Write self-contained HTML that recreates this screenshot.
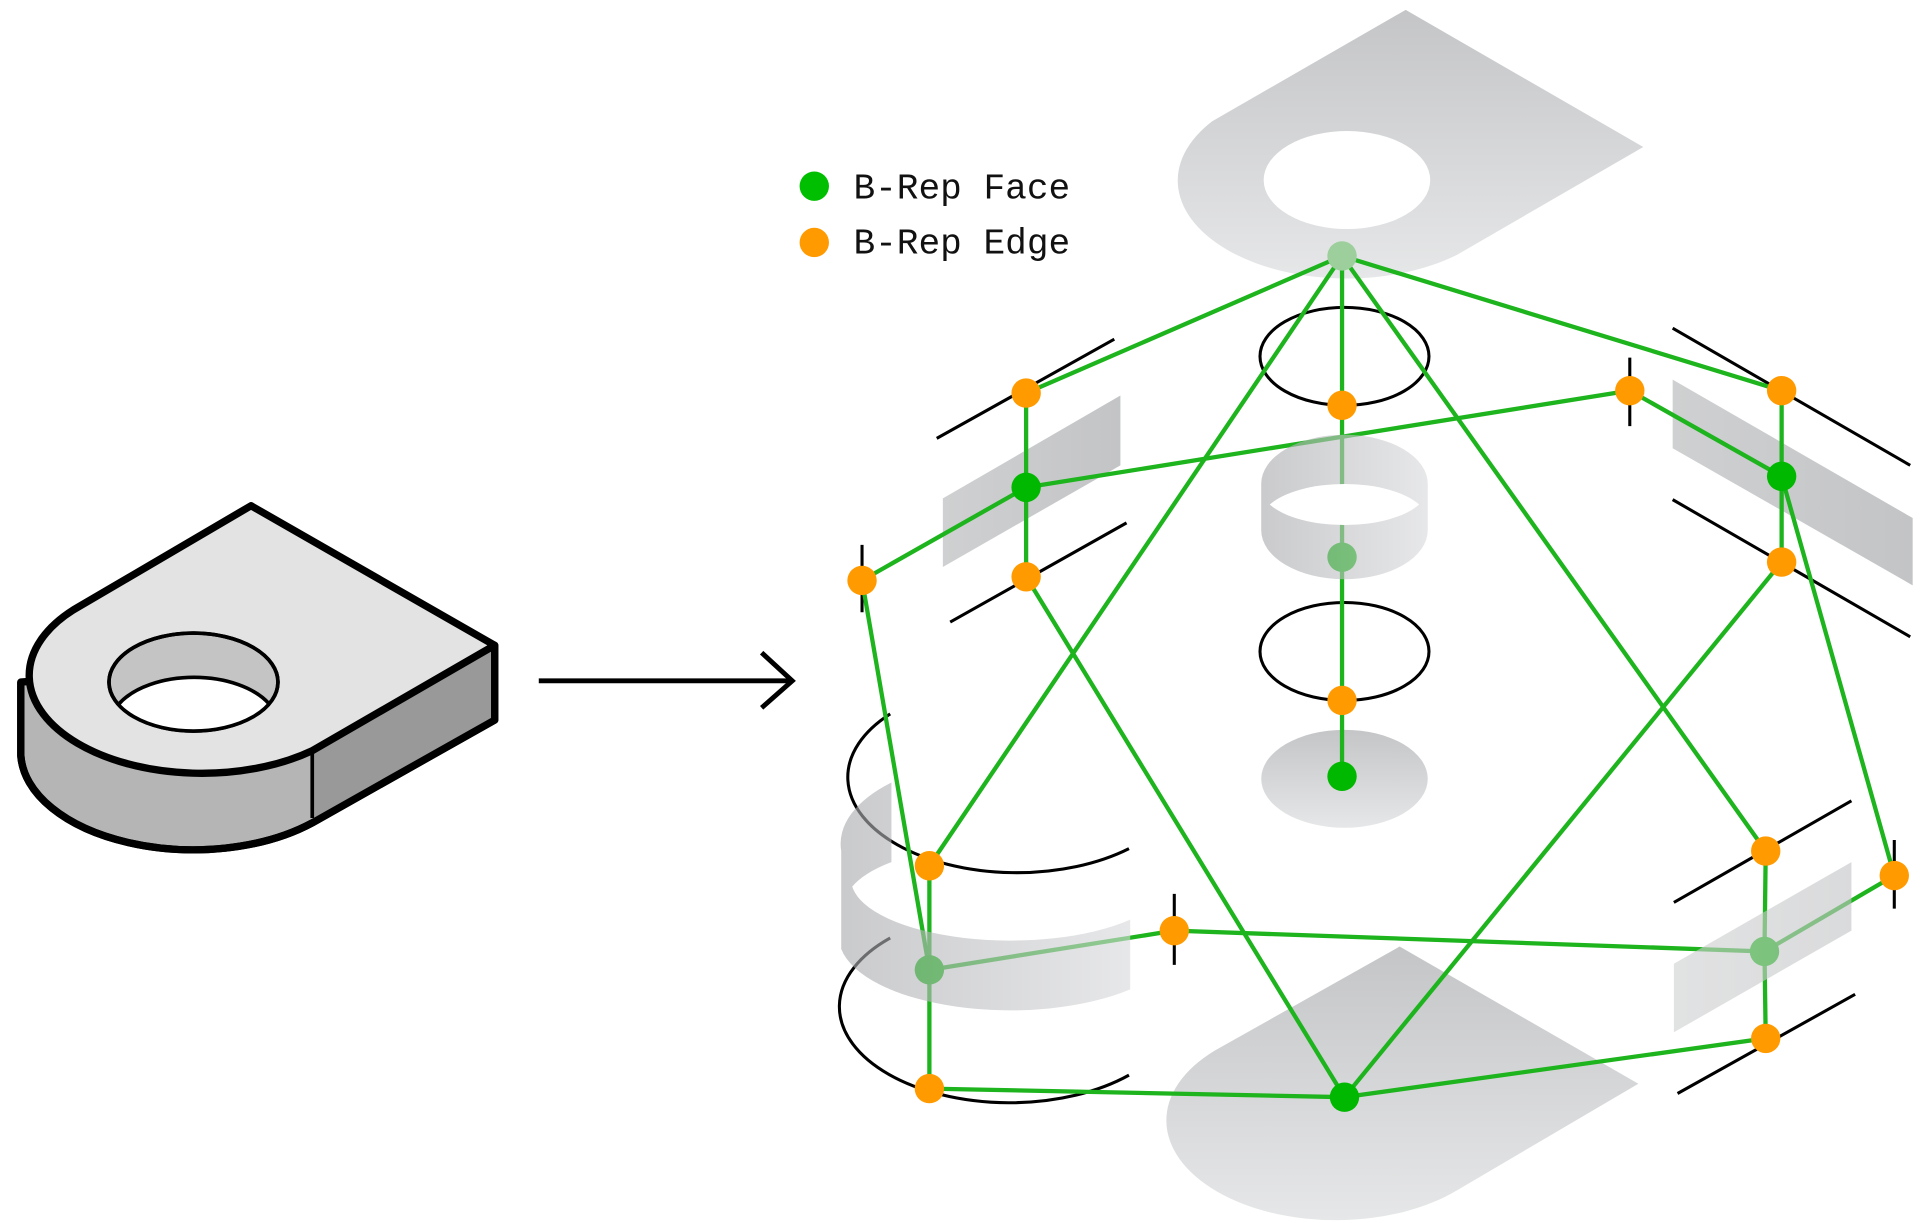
<!DOCTYPE html>
<html><head><meta charset="utf-8"><style>
html,body{margin:0;padding:0;background:#fff;}
svg{display:block;}
</style></head><body>
<svg width="1920" height="1227" viewBox="0 0 1568 1002" xmlns="http://www.w3.org/2000/svg">
<defs>
<linearGradient id="gv" x1="0" y1="0" x2="0" y2="1"><stop offset="0" stop-color="#c4c5c7"/><stop offset="1" stop-color="#e6e7e8"/></linearGradient>
<linearGradient id="gh" x1="0" y1="0" x2="1" y2="0"><stop offset="0" stop-color="#a9aaad"/><stop offset="1" stop-color="#d8d9db"/></linearGradient>
<linearGradient id="gp" x1="0" y1="0" x2="1" y2="0"><stop offset="0" stop-color="#cfd0d1"/><stop offset="1" stop-color="#c3c4c6"/></linearGradient>
</defs>

<!-- Left object -->
<path d="M17,557 L17,617 A141 80 0 0 0 255,672 L404,588 L404,527 Z" fill="#b5b5b5" stroke="#000" stroke-width="6" stroke-linejoin="round"/>
<path d="M255,613 L404,527 L404,588 L255,672 Z" fill="#999"/>
<path d="M404,527 L404,588 L255,672" fill="none" stroke="#000" stroke-width="6" stroke-linejoin="round"/>
<path d="M60,498 L205,413 L404,527 L255,613 A141 80 0 0 1 60,498 Z" fill="#e3e3e3" stroke="#000" stroke-width="6" stroke-linejoin="round"/>
<path d="M17,557 L17,617 A141 80 0 0 0 255,672" fill="none" stroke="#000" stroke-width="6"/>
<line x1="255" y1="613" x2="255" y2="668" stroke="#000" stroke-width="3"/>
<ellipse cx="158" cy="557" rx="69" ry="40" fill="#c4c4c4" stroke="#000" stroke-width="3"/>
<path d="M97,575 A69 40 0 0 1 220,575 A69 40 0 0 1 97,575 Z" fill="#fff"/>
<path d="M97,575 A69 40 0 0 1 220,575" fill="none" stroke="#000" stroke-width="3"/>
<ellipse cx="158" cy="557" rx="69" ry="40" fill="none" stroke="#000" stroke-width="3"/>

<!-- Arrow -->
<line x1="440" y1="556" x2="646" y2="556" stroke="#000" stroke-width="4"/>
<path d="M622,533 L647,556 L622,578" fill="none" stroke="#000" stroke-width="4"/>

<!-- Legend -->
<circle cx="665" cy="152" r="12" fill="#00bf00"/>
<circle cx="665" cy="198" r="12" fill="#ff9a00"/>
<text x="697" y="162" font-family="Liberation Mono, monospace" font-size="29.5" fill="#111">B-Rep Face</text>
<text x="697" y="207" font-family="Liberation Mono, monospace" font-size="29.5" fill="#111">B-Rep Edge</text>

<!-- Under-line faces -->
<path d="M990,99 L1148,8 L1342,120 L1190,208 A138 80 0 0 1 990,99 Z" fill="url(#gv)"/>
<ellipse cx="1100" cy="147" rx="68" ry="40" fill="#fff"/>
<path d="M992,858 L1143,773 L1338,885 L1190,972 A136 80 0 0 1 992,858 Z" fill="url(#gv)"/>
<ellipse cx="1098" cy="636" rx="68" ry="40" fill="url(#gv)"/>
<ellipse cx="1098" cy="291" rx="69" ry="40" fill="none" stroke="#000" stroke-width="2.5"/>
<ellipse cx="1098" cy="532" rx="69" ry="40" fill="none" stroke="#000" stroke-width="2.5"/>
<path d="M770,407 L915,323 L915,380 L770,463 Z" fill="url(#gp)"/>
<path d="M1366,310 L1562,423 L1562,478 L1366,366 Z" fill="url(#gp)"/>
<g stroke="#000" stroke-width="2.5">
<line x1="765" y1="358" x2="910" y2="277"/><line x1="776" y1="508" x2="920" y2="427"/>
<line x1="1366" y1="268" x2="1560" y2="380"/><line x1="1366" y1="408" x2="1560" y2="520"/>
<line x1="1367" y1="737" x2="1512" y2="654"/><line x1="1370" y1="893" x2="1515" y2="812"/>
<line x1="704" y1="445" x2="704" y2="500"/><line x1="1331" y1="292" x2="1331" y2="348"/>
<line x1="959" y1="730" x2="959" y2="788"/><line x1="1547" y1="686" x2="1547" y2="742"/>
</g>
<path d="M727,583 A138 78 0 0 0 922,693" fill="none" stroke="#000" stroke-width="2.5"/>
<path d="M727,766 A138 78 0 0 0 922,878" fill="none" stroke="#000" stroke-width="2.5"/>

<!-- Green lines -->
<g stroke="#1db41d" stroke-width="3.5" fill="none">
<line x1="1096" y1="209" x2="838" y2="321"/><line x1="1096" y1="209" x2="1455" y2="319"/>
<line x1="1096" y1="209" x2="1096" y2="331"/><line x1="1096" y1="209" x2="759" y2="707"/>
<line x1="1096" y1="209" x2="1442" y2="695"/>
<line x1="838" y1="321" x2="838" y2="398"/><line x1="838" y1="398" x2="838" y2="471"/>
<line x1="838" y1="398" x2="704" y2="474"/><line x1="838" y1="398" x2="1331" y2="319"/>
<line x1="1331" y1="319" x2="1455" y2="389"/><line x1="1455" y1="319" x2="1455" y2="389"/>
<line x1="1455" y1="389" x2="1455" y2="459"/><line x1="1455" y1="389" x2="1547" y2="715"/>
<line x1="1096" y1="331" x2="1096" y2="455"/><line x1="1096" y1="455" x2="1096" y2="572"/>
<line x1="1096" y1="572" x2="1096" y2="634"/>
<line x1="838" y1="471" x2="1098" y2="896"/><line x1="1455" y1="459" x2="1098" y2="896"/>
<line x1="1098" y1="896" x2="759" y2="889"/><line x1="1098" y1="896" x2="1442" y2="848"/>
<line x1="704" y1="474" x2="759" y2="792"/><line x1="759" y1="707" x2="759" y2="792"/>
<line x1="759" y1="792" x2="959" y2="760"/><line x1="759" y1="792" x2="759" y2="889"/>
<line x1="959" y1="760" x2="1441" y2="777"/><line x1="1442" y1="695" x2="1441" y2="777"/>
<line x1="1547" y1="715" x2="1441" y2="777"/><line x1="1441" y1="777" x2="1442" y2="848"/>
</g>

<!-- faded face nodes -->
<circle cx="1096" cy="209" r="12" fill="#9ccf9c"/>
<g fill="#00b800">
<circle cx="1096" cy="455" r="12"/>
<circle cx="759" cy="792" r="12"/><circle cx="1441" cy="777" r="12"/>
</g>

<!-- Overlay semi-transparent faces -->
<g opacity="0.62">
<path d="M1030,395 A68 40 0 0 1 1166,395 L1166,433 A68 40 0 0 1 1030,433 Z" fill="url(#gh)"/>
<path d="M728,639 A138 70 0 0 0 687,695 L687,775 A140 60 0 0 0 923,808 L923,751 A130 50 0 0 1 696,724 A130 50 0 0 1 728,704 Z" fill="url(#gh)"/>
<path d="M1367,787 L1512,704 L1512,760 L1367,843 Z" fill="url(#gp)"/>
</g>
<path d="M1037,412 A68 30 0 0 1 1159,412 A68 30 0 0 1 1037,412 Z" fill="#fff"/>

<!-- Nodes -->
<g fill="#00b800">
<circle cx="838" cy="398" r="12"/><circle cx="1455" cy="389" r="12"/>
<circle cx="1096" cy="634" r="12"/><circle cx="1098" cy="896" r="12"/>
</g>
<g fill="#ff9a00">
<circle cx="838" cy="321" r="12"/><circle cx="838" cy="471" r="12"/><circle cx="704" cy="474" r="12"/>
<circle cx="1096" cy="331" r="12"/><circle cx="1331" cy="319" r="12"/><circle cx="1455" cy="319" r="12"/>
<circle cx="1455" cy="459" r="12"/><circle cx="1096" cy="572" r="12"/><circle cx="759" cy="707" r="12"/>
<circle cx="959" cy="760" r="12"/><circle cx="759" cy="889" r="12"/><circle cx="1442" cy="695" r="12"/>
<circle cx="1547" cy="715" r="12"/><circle cx="1442" cy="848" r="12"/>
</g>
</svg>
</body></html>
